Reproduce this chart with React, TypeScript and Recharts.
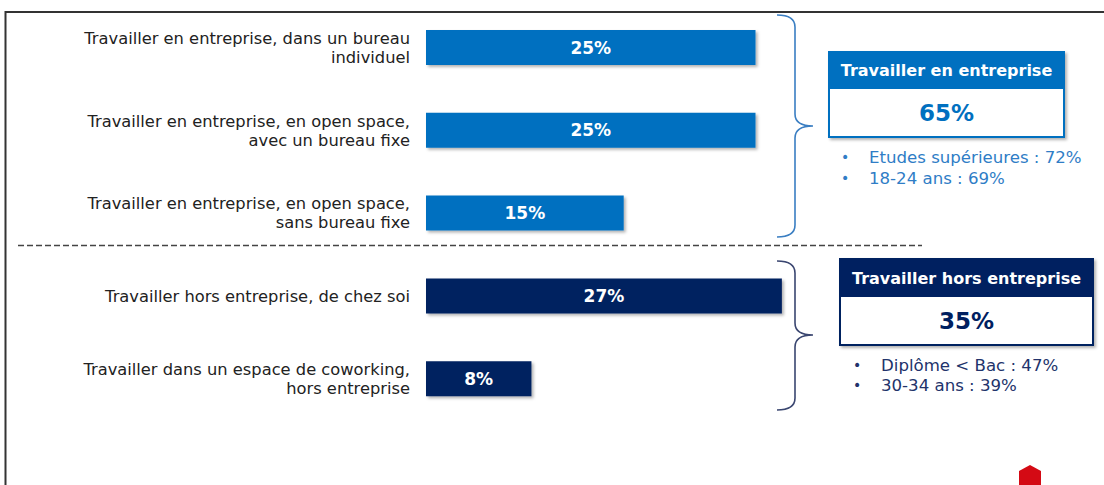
import { BarChart, Bar, XAxis, YAxis, Cell, LabelList } from 'recharts'

const CATEGORIES = [
  'Travailler en entreprise, dans un bureau\nindividuel',
  'Travailler en entreprise, en open space,\navec un bureau fixe',
  'Travailler en entreprise, en open space,\nsans bureau fixe',
  'Travailler hors entreprise, de chez soi',
  'Travailler dans un espace de coworking,\nhors entreprise',
]
const VALUES = [25, 25, 15, 27, 8]
const GROUPS = [0, 0, 0, 1, 1]

const SUMMARY_TITLES = ['Travailler en entreprise', 'Travailler hors entreprise']
const SUMMARY_VALUES = [65, 35]
const SUMMARY_NOTES = [
  ['Etudes supérieures : 72%', '18-24 ans : 69%'],
  ['Diplôme < Bac : 47%', '30-34 ans : 39%'],
]

const FONT = '"DejaVu Sans", Verdana, sans-serif'
const GROUP_COLORS = ['#0070C0', '#002060']
const BRACE_COLORS = ['#3A7EC2', '#3A4670']
const NOTE_COLORS = ['#2F7DC6', '#22336B']

const data = CATEGORIES.map((name, i) => ({ name, value: VALUES[i], group: GROUPS[i] }))

function CategoryTick({ x, y, payload }: any) {
  const lines = String(payload.value).split('\n')
  const lh = 19
  const offset = ((lines.length - 1) * lh) / 2
  return (
    <text x={x} y={y} textAnchor="end" fontFamily={FONT} fontSize={16.3} fill="#222">
      {lines.map((l, i) => (
        <tspan key={i} x={x} y={y - offset + i * lh} dy="0.36em">
          {l}
        </tspan>
      ))}
    </text>
  )
}

// curly brace opening to the right
function brace(x0: number, xv: number, xt: number, top: number, mid: number, bot: number) {
  const r = 12
  return `M${x0} ${top} Q${xv} ${top} ${xv} ${top + r} L${xv} ${mid - r} Q${xv} ${mid} ${xt} ${mid} Q${xv} ${mid} ${xv} ${mid + r} L${xv} ${bot - r} Q${xv} ${bot} ${x0} ${bot}`
}

function SummaryBox({ i, x, y, w, h, hh, notesX, notesY, lh }: any) {
  const color = GROUP_COLORS[i]
  return (
    <g>
      <g filter="url(#shadow)">
        <rect x={x} y={y} width={w} height={h} fill="#fff" stroke={color} strokeWidth={2} />
      </g>
      <rect x={x} y={y} width={w} height={hh} fill={color} />
      <text x={x + w / 2} y={y + hh / 2} dy="0.36em" textAnchor="middle" fontFamily={FONT}
        fontWeight="bold" fontSize={16} fill="#fff">
        {SUMMARY_TITLES[i]}
      </text>
      <text x={x + w / 2} y={y + hh + (h - hh) / 2} dy="0.36em" textAnchor="middle" fontFamily={FONT}
        fontWeight="bold" fontSize={23} fill={color}>
        {SUMMARY_VALUES[i]}%
      </text>
      {SUMMARY_NOTES[i].map((n, k) => (
        <g key={k}>
          <text x={notesX} y={notesY + k * lh} dy="0.36em" fontFamily={FONT} fontSize={14} fill={NOTE_COLORS[i]}>•</text>
          <text x={notesX + 28} y={notesY + k * lh} dy="0.36em" fontFamily={FONT} fontSize={16.6} fill={NOTE_COLORS[i]}>
            {n}
          </text>
        </g>
      ))}
    </g>
  )
}

export default function App() {
  return (
    <div style={{ position: 'absolute', left: 0, top: 0, width: 1104, height: 485, background: '#fff' }}>
      <svg width={1104} height={485} style={{ position: 'absolute', left: 0, top: 0 }}>
        <defs>
          <filter id="shadow" x="-10%" y="-10%" width="130%" height="150%">
            <feDropShadow dx="2" dy="2" stdDeviation="1.5" floodColor="#000" floodOpacity="0.3" />
          </filter>
        </defs>
        {/* frame */}
        <line x1={5} y1={12} x2={1104} y2={12} stroke="#333" strokeWidth={2} />
        <line x1={5.5} y1={11} x2={5.5} y2={485} stroke="#333" strokeWidth={2} />
        {/* separator */}
        <line x1={18} y1={245.5} x2={922} y2={245.5} stroke="#444" strokeWidth={1.3} strokeDasharray="6 3" />
        {/* braces */}
        <path d={brace(777, 795, 813, 15, 126, 237)} fill="none" stroke={BRACE_COLORS[0]} strokeWidth={1.6} />
        <path d={brace(777, 795, 813, 261, 335, 410)} fill="none" stroke={BRACE_COLORS[1]} strokeWidth={1.6} />
        <SummaryBox i={0} x={829} y={52} w={235} h={85} hh={37} notesX={841} notesY={157} lh={21} />
        <SummaryBox i={1} x={840} y={259} w={253} h={86} hh={38} notesX={853} notesY={365} lh={20} />
        {/* logo mark */}
        <polygon points="1030,465 1041,471 1041,485 1019,485 1019,471" fill="#D40A14" />
      </svg>
      <div style={{ position: 'absolute', left: 0, top: 0 }}>
        <BarChart width={1104} height={485} data={data} layout="vertical"
          margin={{ top: 6, right: 19, bottom: 65, left: 0 }}>
          <XAxis type="number" domain={[0, 50]} hide />
          <YAxis type="category" dataKey="name" width={426} tickSize={0} tickMargin={16}
            axisLine={false} tickLine={false} tick={<CategoryTick />} interval={0} />
          <Bar dataKey="value" barSize={35} isAnimationActive={false}>
            {data.map((d, i) => (
              <Cell key={i} fill={GROUP_COLORS[d.group]} filter="url(#shadow)" />
            ))}
            <LabelList dataKey="value" position="center" fill="#fff" fontFamily={FONT}
              fontWeight="bold" fontSize={17} formatter={(v: any) => `${v}%`} />
          </Bar>
        </BarChart>
      </div>
    </div>
  )
}
